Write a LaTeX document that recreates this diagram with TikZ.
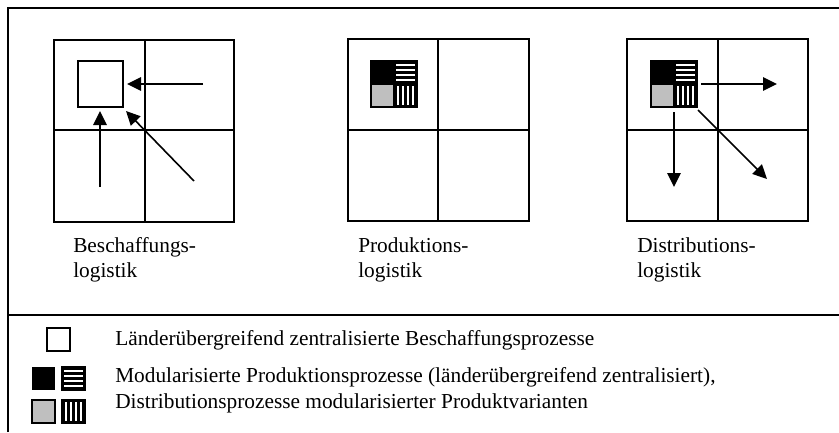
\documentclass[tikz,border=0pt]{standalone}
\usepackage{fontspec}
\setmainfont{Liberation Serif}
\usetikzlibrary{arrows.meta}
\newcommand\stripesH[3]{% x y size : horizontal stripes square
  \fill[black] (#1,#2) rectangle ++(#3,#3);
  \foreach \i in {1,3,5,7}{\fill[white] (#1+1.6,#2+#3*\i/9) rectangle (#1+#3-1.6,#2+#3*\i/9+#3/9);}
  \draw[line width=1.2pt] (#1,#2) rectangle ++(#3,#3);}
\newcommand\stripesV[3]{%
  \fill[black] (#1,#2) rectangle ++(#3,#3);
  \foreach \i in {1,3,5,7}{\fill[white] (#1+#3*\i/9,#2+1.6) rectangle (#1+#3*\i/9+#3/9,#2+#3-1.6);}
  \draw[line width=1.2pt] (#1,#2) rectangle ++(#3,#3);}
\newcommand\modglyph[2]{% x y : 46px glyph
  \fill[black] (#1,#2) rectangle ++(23,23);
  \fill[gray!50] (#1,#2+23) rectangle ++(23,23);
  \stripesH{#1+23}{#2}{23}
  \stripesV{#1+23}{#2+23}{23}
  \draw[line width=1.2pt] (#1,#2) rectangle ++(46,46);
  \draw[line width=1.2pt] (#1,#2+23) -- ++(46,0);}
\begin{document}
\begin{tikzpicture}[x=0.75pt,y=-0.75pt,
  frame/.style={line width=1.5pt},
  gridline/.style={line width=1.5pt},
  arr/.style={line width=1.2pt,-{Triangle[length=10.5pt,width=10pt]}},
  lbl/.style={anchor=base west,inner sep=0pt,font=\fontsize{16}{19}\selectfont,align=left}]
\useasboundingbox (0,0) rectangle (839,432);
% frame
\draw[frame] (8,432) -- (8,8) -- (839,8);
\draw[frame] (8,315) -- (839,315);
% grids
\foreach \x/\y/\w/\cx in {54/40/180/145, 348/39/181/438, 627/39/181/718}{
  \draw[gridline] (\x,\y) rectangle ++(\w,182);
  \draw[gridline] (\cx,\y) -- (\cx,221);
  \draw[gridline] (\x,130) -- (\x+\w,130);
}
% grid 1: sourcing
\node[draw,line width=1.2pt,minimum width=33.75pt,minimum height=34.5pt,inner sep=0pt] (box) at (100.5,84) {};
\coordinate (s1) at (203,84);
\coordinate (s2) at (100,187);
\coordinate (s3) at (194,181);
\coordinate (t1) at (127,84);
\coordinate (t2) at (100,111);
\coordinate (t3) at (126,111);
\draw[arr] (s1) -- (t1);
\draw[arr] (s2) -- (t2);
\draw[arr] (s3) -- (t3);
% grid 2
\modglyph{371}{61}
% grid 3
\modglyph{651}{61}
\coordinate (d0a) at (701,84);
\coordinate (d1) at (777,84);
\coordinate (d0b) at (674,112);
\coordinate (d2) at (674,187);
\coordinate (d0c) at (698,110);
\coordinate (d3) at (767,179);
\draw[arr] (d0a) -- (d1);
\draw[arr] (d0b) -- (d2);
\draw[arr] (d0c) -- (d3);
% labels
\node[lbl] (l1a) at (73,252) {Beschaffungs-};
\node[lbl] (l1b) at (73,277) {logistik};
\node[lbl] (l2a) at (358,252) {Produktions-};
\node[lbl] (l2b) at (358,277) {logistik};
\node[lbl] (l3a) at (637,252) {Distributions-};
\node[lbl] (l3b) at (637,277) {logistik};
% legend
\draw[line width=1.2pt] (47,328) rectangle (70,351);
\fill[black] (32,367) rectangle (55,390);
\stripesH{62}{367}{23}
\fill[gray!50] (32,400) rectangle (55,423);
\draw[line width=1.2pt] (32,400) rectangle (55,423);
\stripesV{62}{400}{23}
\node[lbl] (g1) at (115,345) {Länderübergreifend zentralisierte Beschaffungsprozesse};
\node[lbl] (g2) at (115,382) {Modularisierte Produktionsprozesse (länderübergreifend zentralisiert),};
\node[lbl] (g3) at (115,408) {Distributionsprozesse modularisierter Produktvarianten};
\end{tikzpicture}
\end{document}
